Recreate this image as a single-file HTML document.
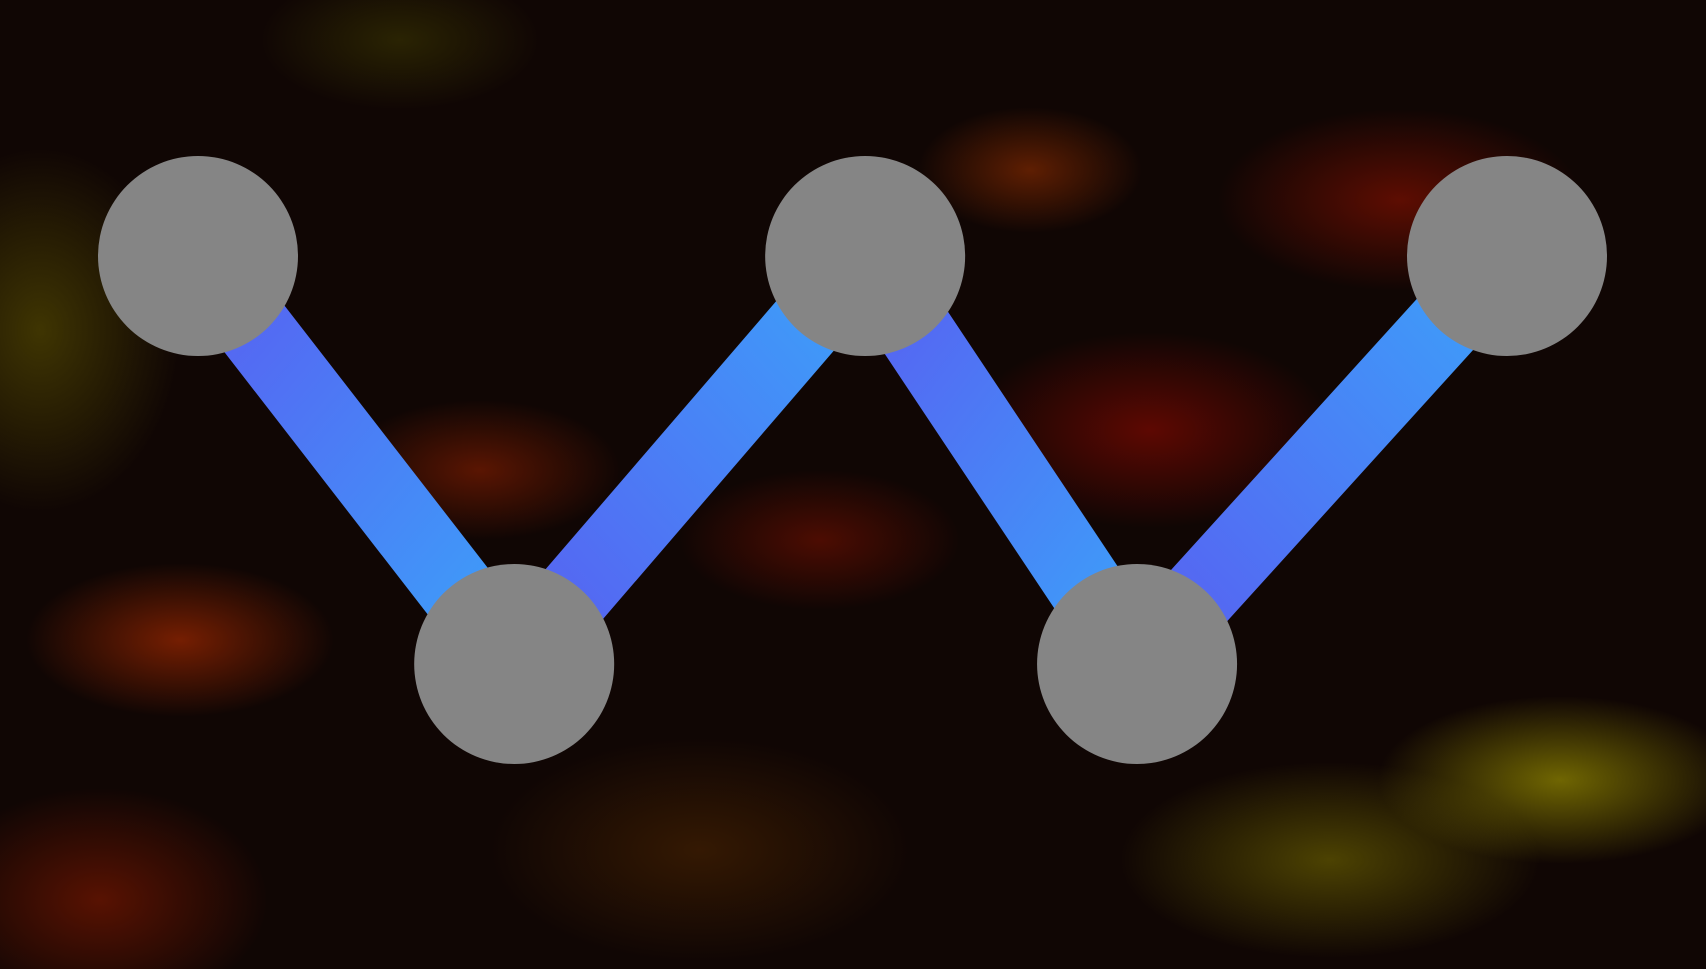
<!DOCTYPE html>
<html><head><meta charset="utf-8">
<style>
html,body{margin:0;padding:0;width:1706px;height:969px;overflow:hidden;background:#0a0503;}
#bg{position:absolute;left:0;top:0;width:1706px;height:969px;
background:
radial-gradient(ellipse 260px 120px at 1560px 780px, rgba(190,180,0,0.55), transparent 70%),
radial-gradient(ellipse 300px 140px at 1330px 860px, rgba(150,140,0,0.45), transparent 70%),
radial-gradient(ellipse 220px 110px at 180px 640px, rgba(200,50,0,0.55), transparent 70%),
radial-gradient(ellipse 200px 100px at 480px 470px, rgba(180,40,0,0.45), transparent 70%),
radial-gradient(ellipse 260px 140px at 1150px 430px, rgba(170,10,0,0.5), transparent 70%),
radial-gradient(ellipse 260px 130px at 1400px 200px, rgba(170,20,0,0.5), transparent 70%),
radial-gradient(ellipse 200px 100px at 820px 540px, rgba(150,20,0,0.45), transparent 70%),
radial-gradient(ellipse 160px 90px at 1030px 170px, rgba(190,60,0,0.45), transparent 70%),
radial-gradient(ellipse 200px 260px at 40px 330px, rgba(120,110,0,0.45), transparent 70%),
radial-gradient(ellipse 240px 160px at 100px 900px, rgba(160,30,0,0.5), transparent 70%),
radial-gradient(ellipse 300px 160px at 700px 850px, rgba(120,60,0,0.35), transparent 70%),
radial-gradient(ellipse 200px 100px at 400px 40px, rgba(90,90,0,0.35), transparent 70%),
#100604;}
svg{position:absolute;left:0;top:0;}
</style></head>
<body>
<div id="bg"></div>
<svg id="chart" width="1706" height="969">
<defs>
<linearGradient id="gDown" gradientUnits="objectBoundingBox" x1="0" y1="0" x2="1" y2="1">
<stop offset="0" stop-color="#5b58f0"/><stop offset="1" stop-color="#39a8fb"/></linearGradient>
<linearGradient id="gUp" gradientUnits="objectBoundingBox" x1="0" y1="1" x2="1" y2="0">
<stop offset="0" stop-color="#5b58f0"/><stop offset="1" stop-color="#39a8fb"/></linearGradient>
</defs>
<g id="links"></g>
<g id="nodes"></g>
</svg>
<script>
const xValues = [0, 1, 2.11, 2.97, 4.14];
const yValues = [1, 0, 1, 0, 1];
const xScale = v => 198 + v * (1507 - 198) / 4.14;
const yScale = v => 664 - v * (664 - 256);
const NS = 'http://www.w3.org/2000/svg';
const links = document.getElementById('links');
const nodes = document.getElementById('nodes');
for (let i = 0; i < xValues.length - 1; i++) {
  const x1 = xScale(xValues[i]), y1 = yScale(yValues[i]);
  const x2 = xScale(xValues[i+1]), y2 = yScale(yValues[i+1]);
  const dx = x2 - x1, dy = y2 - y1, len = Math.hypot(dx, dy);
  const nx = -dy / len * 38, ny = dx / len * 38;
  const p = document.createElementNS(NS, 'polygon');
  p.setAttribute('points', `${x1+nx},${y1+ny} ${x2+nx},${y2+ny} ${x2-nx},${y2-ny} ${x1-nx},${y1-ny}`);
  p.setAttribute('fill', y2 > y1 ? 'url(#gDown)' : 'url(#gUp)');
  
  
  links.appendChild(p);
}
for (let i = 0; i < xValues.length; i++) {
  const c = document.createElementNS(NS, 'circle');
  c.setAttribute('cx', xScale(xValues[i]));
  c.setAttribute('cy', yScale(yValues[i]));
  c.setAttribute('r', 100);
  c.setAttribute('fill', '#858585');
  
  
  nodes.appendChild(c);
}
</script>
</body></html>
